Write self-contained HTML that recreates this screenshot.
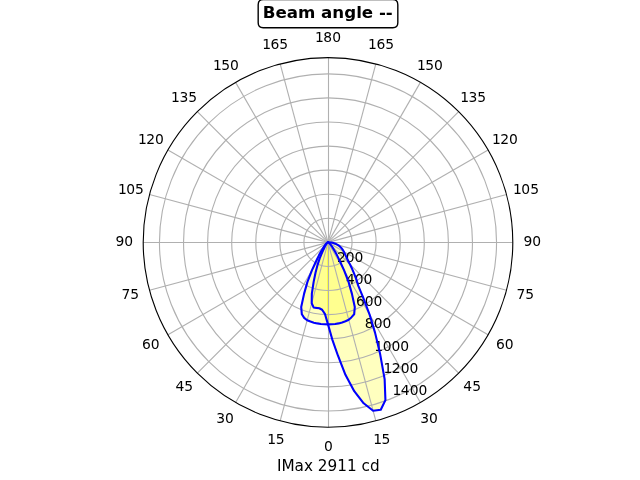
<!DOCTYPE html>
<html lang="en"><head><meta charset="utf-8"><title>Beam angle</title>
<style>html,body{margin:0;padding:0;background:#fff;overflow:hidden}svg{display:block}</style></head>
<body>
<svg width="640" height="480" viewBox="0 0 640 480">
<rect width="640" height="480" fill="#fff"/>
<g fill="#ffff00" fill-opacity="0.25" stroke="#ffff00" stroke-opacity="0.25" stroke-width="1.39" stroke-linejoin="round">
<polygon points="328,324.4 324.42,324.32 320.86,323.99 317.34,323.4 313.85,322.66 310.45,321.58 307.14,320.25 304.18,317.93 301.84,314.29 301.21,307.07 304.12,293.61 307.45,281.87 312,270.11 316.18,260.95 318.94,255.34 321,251.52 322.54,248.91 323.61,247.19 324.46,245.94 325.05,245.1 325.63,244.39 325.98,243.95 326.36,243.55 326.65,243.26 326.96,243 327.09,242.87 327.23,242.76 327.38,242.66 327.53,242.57 327.59,242.53 327.66,242.49 327.73,242.46 327.8,242.43 327.85,242.42 327.9,242.41 327.95,242.4 328,242.4"/>
<polygon points="328,324.4 331.58,324.32 335.14,323.99 338.66,323.4 342.12,322.46 345.49,321.28 348.73,319.77 351.58,317.17 354.16,314.29 354.79,307.07 351.88,293.61 348.55,281.87 344,270.11 339.82,260.95 337.06,255.34 335,251.52 333.46,248.91 332.39,247.19 331.54,245.94 330.95,245.1 330.37,244.39 330.02,243.95 329.64,243.55 329.35,243.26 329.04,243 328.91,242.87 328.77,242.76 328.62,242.66 328.47,242.57 328.41,242.53 328.34,242.49 328.27,242.46 328.2,242.43 328.15,242.42 328.1,242.41 328.05,242.4 328,242.4"/>
<polygon points="328,324.4 324.88,313.83 322.11,309.74 319.33,308.28 316.45,307.89 313.59,307.42 311.69,303.25 311.85,293.61 313.64,281.87 315.56,272.43 317.65,264.6 319.69,258.37 322,252.79 323.43,249.57 324.27,247.72 324.8,246.57 325.43,245.46 325.7,244.91 326.02,244.38 326.23,244.02 326.47,243.69 326.61,243.47 326.77,243.26 326.95,243.07 327.13,242.9 327.19,242.82 327.24,242.75 327.31,242.69 327.37,242.63 327.44,242.58 327.52,242.53 327.59,242.49 327.67,242.46 327.75,242.43 327.83,242.41 327.92,242.4 328,242.4"/>
<polygon points="328,324.4 332.23,339.31 337.89,355.47 345.44,374.86 354.24,391.2 363.67,403.29 373.11,410.76 380.77,409.78 385.43,400.17 384.64,379.13 380.19,354.33 375.1,332.88 369.5,314.28 363.19,297.64 358.11,285.41 356.31,279.29 354.03,273.42 351.98,268.57 349.92,264.32 347.91,260.64 346.77,258.15 345.93,256.16 345.2,254.45 344.45,252.88 343.76,251.5 342.99,250.2 342.05,248.95 341.3,247.91 340.31,246.88 339.25,245.95 338.05,245.09 336.79,244.35 335.48,243.72 334.05,243.2 332.48,242.79 330.5,242.51 328,242.4"/>
</g>
<g fill="none" stroke="#b0b0b0" stroke-width="1.11">
<line x1="328.5" y1="242.5" x2="328.5" y2="427.2"/>
<line x1="328" y1="242.4" x2="375.83" y2="420.9"/>
<line x1="328" y1="242.4" x2="420.4" y2="402.44"/>
<line x1="328" y1="242.4" x2="458.67" y2="373.07"/>
<line x1="328" y1="242.4" x2="488.04" y2="334.8"/>
<line x1="328" y1="242.4" x2="506.5" y2="290.23"/>
<line x1="328.5" y1="242.5" x2="512.8" y2="242.5"/>
<line x1="328" y1="242.4" x2="506.5" y2="194.57"/>
<line x1="328" y1="242.4" x2="488.04" y2="150"/>
<line x1="328" y1="242.4" x2="458.67" y2="111.73"/>
<line x1="328" y1="242.4" x2="420.4" y2="82.36"/>
<line x1="328" y1="242.4" x2="375.83" y2="63.9"/>
<line x1="328.5" y1="242.5" x2="328.5" y2="57.6"/>
<line x1="328" y1="242.4" x2="280.17" y2="63.9"/>
<line x1="328" y1="242.4" x2="235.6" y2="82.36"/>
<line x1="328" y1="242.4" x2="197.33" y2="111.73"/>
<line x1="328" y1="242.4" x2="167.96" y2="150"/>
<line x1="328" y1="242.4" x2="149.5" y2="194.57"/>
<line x1="328.5" y1="242.5" x2="143.2" y2="242.5"/>
<line x1="328" y1="242.4" x2="149.5" y2="290.23"/>
<line x1="328" y1="242.4" x2="167.96" y2="334.8"/>
<line x1="328" y1="242.4" x2="197.33" y2="373.07"/>
<line x1="328" y1="242.4" x2="235.6" y2="402.44"/>
<line x1="328" y1="242.4" x2="280.17" y2="420.9"/>
<circle cx="328" cy="242.4" r="24.08"/>
<circle cx="328" cy="242.4" r="48.16"/>
<circle cx="328" cy="242.4" r="72.23"/>
<circle cx="328" cy="242.4" r="96.31"/>
<circle cx="328" cy="242.4" r="120.39"/>
<circle cx="328" cy="242.4" r="144.47"/>
<circle cx="328" cy="242.4" r="168.55"/>
</g>
<g font-family="'DejaVu Sans', 'Liberation Sans', sans-serif" fill="#000">
<text x="328.5" y="451" font-size="13.89" text-anchor="middle">0</text>
<text x="381.36" y="444" font-size="13.89" text-anchor="middle" dx="0.5 -0.5">15</text>
<text x="429.12" y="423" font-size="13.89" text-anchor="middle">30</text>
<text x="472.17" y="391" font-size="13.89" text-anchor="middle">45</text>
<text x="504.88" y="349" font-size="13.89" text-anchor="middle">60</text>
<text x="525.28" y="299" font-size="13.89" text-anchor="middle">75</text>
<text x="532.24" y="246" font-size="13.89" text-anchor="middle">90</text>
<text x="525.53" y="194" font-size="13.89" text-anchor="middle" dx="0.5 -0.5">105</text>
<text x="504.38" y="144" font-size="13.89" text-anchor="middle" dx="0.5 -0.5">120</text>
<text x="472.67" y="102" font-size="13.89" text-anchor="middle" dx="0.5 -0.5">135</text>
<text x="429.37" y="70" font-size="13.89" text-anchor="middle" dx="0.5 -0.5">150</text>
<text x="380.61" y="49" font-size="13.89" text-anchor="middle" dx="0.5 -0.5">165</text>
<text x="327.5" y="42" font-size="13.89" text-anchor="middle" dx="0.5 -0.5">180</text>
<text x="274.64" y="49" font-size="13.89" text-anchor="middle" dx="0.5 -0.5">165</text>
<text x="225.38" y="70" font-size="13.89" text-anchor="middle" dx="0.5 -0.5">150</text>
<text x="183.58" y="102" font-size="13.89" text-anchor="middle" dx="0.5 -0.5">135</text>
<text x="150.37" y="144" font-size="13.89" text-anchor="middle" dx="0.5 -0.5">120</text>
<text x="130.47" y="194" font-size="13.89" text-anchor="middle" dx="0.5 -0.5">105</text>
<text x="124.26" y="246" font-size="13.89" text-anchor="middle">90</text>
<text x="130.22" y="299" font-size="13.89" text-anchor="middle">75</text>
<text x="150.87" y="349" font-size="13.89" text-anchor="middle">60</text>
<text x="184.33" y="391" font-size="13.89" text-anchor="middle">45</text>
<text x="225.13" y="423" font-size="13.89" text-anchor="middle">30</text>
<text x="275.39" y="444" font-size="13.89" text-anchor="middle" dx="0.5 -0.5">15</text>
<text x="336.96" y="262" font-size="13.89" text-anchor="start">200</text>
<text x="345.93" y="284" font-size="13.89" text-anchor="start">400</text>
<text x="355.89" y="306" font-size="13.89" text-anchor="start">600</text>
<text x="364.86" y="328" font-size="13.89" text-anchor="start">800</text>
<text x="373.82" y="351" font-size="13.89" text-anchor="start" dx="0.5 -0.5">1000</text>
<text x="383.04" y="373" font-size="13.89" text-anchor="start" dx="0.5 -0.5">1200</text>
<text x="392" y="395" font-size="13.89" text-anchor="start" dx="0.5 -0.5">1400</text>
</g>
<g fill="none" stroke="#0000ff" stroke-width="2.08" stroke-linejoin="round" stroke-linecap="square">
<polyline points="328,242.4 327.95,242.4 327.9,242.41 327.85,242.42 327.8,242.43 327.73,242.46 327.66,242.49 327.59,242.53 327.53,242.57 327.38,242.66 327.23,242.76 327.09,242.87 326.96,243 326.65,243.26 326.36,243.55 325.98,243.95 325.63,244.39 325.05,245.1 324.46,245.94 323.61,247.19 322.54,248.91 321,251.52 318.94,255.34 316.18,260.95 312,270.11 307.45,281.87 304.12,293.61 301.21,307.07 301.84,314.29 304.18,317.93 307.14,320.25 310.45,321.58 313.85,322.66 317.34,323.4 320.86,323.99 324.42,324.32 328,324.4 331.58,324.32 335.14,323.99 338.66,323.4 342.12,322.46 345.49,321.28 348.73,319.77 351.58,317.17 354.16,314.29 354.79,307.07 351.88,293.61 348.55,281.87 344,270.11 339.82,260.95 337.06,255.34 335,251.52 333.46,248.91 332.39,247.19 331.54,245.94 330.95,245.1 330.37,244.39 330.02,243.95 329.64,243.55 329.35,243.26 329.04,243 328.91,242.87 328.77,242.76 328.62,242.66 328.47,242.57 328.41,242.53 328.34,242.49 328.27,242.46 328.2,242.43 328.15,242.42 328.1,242.41 328.05,242.4 328,242.4"/>
<polyline points="328,242.4 327.92,242.4 327.83,242.41 327.75,242.43 327.67,242.46 327.59,242.49 327.52,242.53 327.44,242.58 327.37,242.63 327.31,242.69 327.24,242.75 327.19,242.82 327.13,242.9 326.95,243.07 326.77,243.26 326.61,243.47 326.47,243.69 326.23,244.02 326.02,244.38 325.7,244.91 325.43,245.46 324.8,246.57 324.27,247.72 323.43,249.57 322,252.79 319.69,258.37 317.65,264.6 315.56,272.43 313.64,281.87 311.85,293.61 311.69,303.25 313.59,307.42 316.45,307.89 319.33,308.28 322.11,309.74 324.88,313.83 328,324.4 332.23,339.31 337.89,355.47 345.44,374.86 354.24,391.2 363.67,403.29 373.11,410.76 380.77,409.78 385.43,400.17 384.64,379.13 380.19,354.33 375.1,332.88 369.5,314.28 363.19,297.64 358.11,285.41 356.31,279.29 354.03,273.42 351.98,268.57 349.92,264.32 347.91,260.64 346.77,258.15 345.93,256.16 345.2,254.45 344.45,252.88 343.76,251.5 342.99,250.2 342.05,248.95 341.3,247.91 340.31,246.88 339.25,245.95 338.05,245.09 336.79,244.35 335.48,243.72 334.05,243.2 332.48,242.79 330.5,242.51 328,242.4"/>
</g>
<circle cx="328" cy="242.4" r="184.8" fill="none" stroke="#000" stroke-width="1.11"/>
<path d="M263.18,27.73 L392.82,27.73 Q397.82,27.73 397.82,22.73 L397.82,4.66 Q397.82,-0.34 392.82,-0.34 L263.18,-0.34 Q258.18,-0.34 258.18,4.66 L258.18,22.73 Q258.18,27.73 263.18,27.73 Z" fill="#fff" stroke="#000" stroke-width="1.39"/>
<g font-family="'DejaVu Sans', 'Liberation Sans', sans-serif" fill="#000">
<text x="328.25" y="471" font-size="15.28" text-anchor="middle">IMax 2911 cd</text>
<text x="327.75" y="18" font-size="16.67" text-anchor="middle" font-weight="bold">Beam angle --</text>
</g>
</svg>
</body></html>
